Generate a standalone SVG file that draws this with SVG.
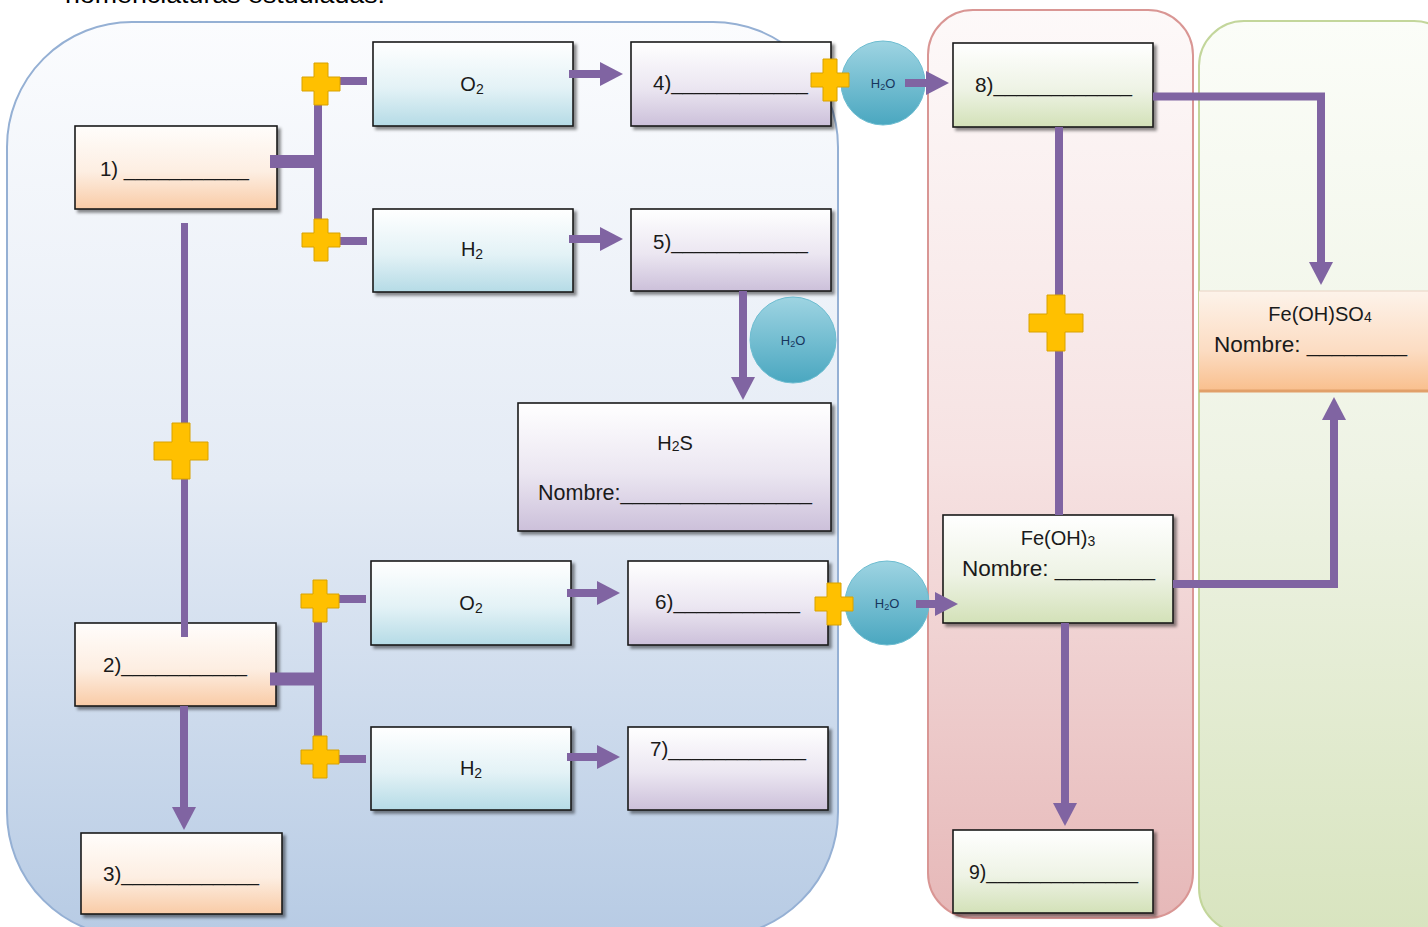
<svg xmlns="http://www.w3.org/2000/svg" width="1428" height="927" viewBox="0 0 1428 927">
<defs>
<linearGradient id="gBlue" x1="0" y1="0" x2="0" y2="1"><stop offset="0" stop-color="#fbfcfe"/><stop offset="0.5" stop-color="#e4ebf5"/><stop offset="1" stop-color="#b7cbe4"/></linearGradient>
<linearGradient id="gPink" x1="0" y1="0" x2="0" y2="1"><stop offset="0" stop-color="#fdf9f9"/><stop offset="0.5" stop-color="#f6e2e2"/><stop offset="1" stop-color="#e6b8b8"/></linearGradient>
<linearGradient id="gGreen" x1="0" y1="0" x2="0" y2="1"><stop offset="0" stop-color="#fbfdf8"/><stop offset="0.5" stop-color="#eef3e4"/><stop offset="1" stop-color="#d8e4bf"/></linearGradient>
<linearGradient id="gPeach" x1="0" y1="0" x2="0" y2="1"><stop offset="0" stop-color="#fffdfb"/><stop offset="0.55" stop-color="#fdeee2"/><stop offset="1" stop-color="#f9cba6"/></linearGradient>
<linearGradient id="gTeal" x1="0" y1="0" x2="0" y2="1"><stop offset="0" stop-color="#ffffff"/><stop offset="0.55" stop-color="#e3f2f6"/><stop offset="1" stop-color="#b5dbe6"/></linearGradient>
<linearGradient id="gLav" x1="0" y1="0" x2="0" y2="1"><stop offset="0" stop-color="#ffffff"/><stop offset="0.55" stop-color="#ebe6f1"/><stop offset="1" stop-color="#ccc0da"/></linearGradient>
<linearGradient id="gLime" x1="0" y1="0" x2="0" y2="1"><stop offset="0" stop-color="#ffffff"/><stop offset="0.55" stop-color="#eef3e5"/><stop offset="1" stop-color="#d3e1b8"/></linearGradient>
<linearGradient id="gOrange" x1="0" y1="0" x2="0" y2="1"><stop offset="0" stop-color="#fdf3ea"/><stop offset="0.6" stop-color="#fcdcc2"/><stop offset="1" stop-color="#f9bf8d"/></linearGradient>
<linearGradient id="gCircle" x1="0" y1="0" x2="0" y2="1"><stop offset="0" stop-color="#9ed4e2"/><stop offset="1" stop-color="#4aa7c0"/></linearGradient>
<filter id="sh" x="-10%" y="-10%" width="130%" height="140%"><feDropShadow dx="3" dy="3" stdDeviation="1.5" flood-color="#000" flood-opacity="0.45"/></filter>
<marker id="ah" markerUnits="userSpaceOnUse" markerWidth="24" markerHeight="24" viewBox="0 0 24 24" refX="1" refY="12" orient="auto"><path d="M0,0 L23,12 L0,24 z" fill="#8064a2"/></marker>
<path id="plusS" d="M-7,-21 h14 v14 h12 v14 h-12 v14 h-14 v-14 h-12 v-14 h12 z"/>
<path id="plusL" d="M-9,-28 h18 v19 h18 v18 h-18 v19 h-18 v-19 h-18 v-18 h18 z"/>
</defs>
<style>
.box{stroke:#1a1a1a;stroke-width:1.6;filter:url(#sh)}
.peach{fill:url(#gPeach)}
.teal{fill:url(#gTeal)}
.lav{fill:url(#gLav)}
.lime{fill:url(#gLime)}
.t{font-family:"Liberation Sans",Arial,sans-serif;font-size:20px;fill:#1a1a1a}
.n{font-size:22px}
.c{text-anchor:middle}
.w{font-family:"Liberation Sans",Arial,sans-serif;font-size:13px;fill:#17365d;text-anchor:middle}
.con{stroke:#8064a2;fill:none;stroke-width:8}
.thick{stroke-width:13}
.thin{stroke-width:7}
.plus{fill:#ffc000;stroke:#d8a200;stroke-width:1}
.circ{fill:url(#gCircle);stroke:#6cbcd0;stroke-width:1}
</style>

<text x="65" y="3" font-family="Liberation Sans, Arial, sans-serif" font-size="24" fill="#000" textLength="320" lengthAdjust="spacingAndGlyphs">nomenclaturas estudiadas.</text>

<g id="panels">
<rect id="panel-blue" x="7" y="22" width="831" height="915" rx="125" ry="125" fill="url(#gBlue)" stroke="#95b0d4" stroke-width="2"/>
<rect id="panel-pink" x="928" y="10" width="265" height="908" rx="45" ry="45" fill="url(#gPink)" stroke="#d99694" stroke-width="2"/>
<rect id="panel-green" x="1199" y="21" width="260" height="912" rx="45" ry="45" fill="url(#gGreen)" stroke="#c3d69b" stroke-width="2"/>
</g>

<g id="n1"><rect class="box peach" x="75" y="126" width="202" height="83"/><text class="t" x="100" y="176" textLength="149" lengthAdjust="spacingAndGlyphs">1) ___________</text></g>
<g id="n2"><rect class="box peach" x="75" y="623" width="201" height="83"/><text class="t" x="103" y="672" textLength="144" lengthAdjust="spacingAndGlyphs">2)___________</text></g>
<g id="n3"><rect class="box peach" x="81" y="833" width="201" height="81"/><text class="t" x="103" y="881" textLength="156" lengthAdjust="spacingAndGlyphs">3)____________</text></g>

<g id="o2a"><rect class="box teal" x="373" y="42" width="200" height="84"/><text class="t c" x="472" y="91">O<tspan font-size="14" dy="3">2</tspan></text></g>
<g id="h2a"><rect class="box teal" x="373" y="209" width="200" height="83"/><text class="t c" x="472" y="256">H<tspan font-size="14" dy="3">2</tspan></text></g>
<g id="o2b"><rect class="box teal" x="371" y="561" width="200" height="84"/><text class="t c" x="471" y="610">O<tspan font-size="14" dy="3">2</tspan></text></g>
<g id="h2b"><rect class="box teal" x="371" y="727" width="200" height="83"/><text class="t c" x="471" y="775">H<tspan font-size="14" dy="3">2</tspan></text></g>

<g id="n4"><rect class="box lav" x="631" y="42" width="200" height="84"/><text class="t" x="653" y="90" textLength="155" lengthAdjust="spacingAndGlyphs">4)____________</text></g>
<g id="n5"><rect class="box lav" x="631" y="209" width="200" height="82"/><text class="t" x="653" y="249" textLength="155" lengthAdjust="spacingAndGlyphs">5)____________</text></g>
<g id="n6"><rect class="box lav" x="628" y="561" width="200" height="84"/><text class="t" x="655" y="609" textLength="145" lengthAdjust="spacingAndGlyphs">6)___________</text></g>
<g id="n7"><rect class="box lav" x="628" y="727" width="200" height="83"/><text class="t" x="650" y="756" textLength="156" lengthAdjust="spacingAndGlyphs">7)____________</text></g>
<g id="h2s"><rect class="box lav" x="518" y="403" width="313" height="128"/><text class="t c" x="675" y="450">H<tspan font-size="14" dy="1">2</tspan><tspan dy="-1">S</tspan></text><text class="t n" x="538" y="500" textLength="274" lengthAdjust="spacingAndGlyphs">Nombre:________________</text></g>

<g id="n8"><rect class="box lime" x="953" y="43" width="200" height="84"/><text class="t" x="975" y="92" textLength="157" lengthAdjust="spacingAndGlyphs">8)____________</text></g>
<g id="feoh3"><rect class="box lime" x="943" y="515" width="230" height="108"/><text class="t c" x="1058" y="545">Fe(OH)<tspan font-size="14" dy="1">3</tspan></text><text class="t n" x="962" y="576" textLength="193" lengthAdjust="spacingAndGlyphs">Nombre: ________</text></g>
<g id="n9"><rect class="box lime" x="953" y="830" width="200" height="83"/><text class="t" x="969" y="879" textLength="169" lengthAdjust="spacingAndGlyphs">9)______________</text></g>

<g id="feohso4"><rect x="1199" y="291" width="240" height="100" fill="url(#gOrange)"/><line x1="1199" y1="291" x2="1428" y2="291" stroke="#e9d3c3" stroke-width="1"/><line x1="1199" y1="391" x2="1428" y2="391" stroke="#e1a06a" stroke-width="3"/><text class="t c" x="1320" y="321">Fe(OH)SO<tspan font-size="14" dy="1">4</tspan></text><text class="t n" x="1214" y="352" textLength="193" lengthAdjust="spacingAndGlyphs">Nombre: ________</text></g>

<g id="water1"><circle class="circ" cx="883" cy="83" r="42"/><text class="w" x="883" y="88">H<tspan font-size="9" dy="2">2</tspan><tspan dy="-2">O</tspan></text></g>
<g id="water2"><circle class="circ" cx="793" cy="340" r="43"/><text class="w" x="793" y="345">H<tspan font-size="9" dy="2">2</tspan><tspan dy="-2">O</tspan></text></g>
<g id="water3"><circle class="circ" cx="887" cy="603" r="42"/><text class="w" x="887" y="608">H<tspan font-size="9" dy="2">2</tspan><tspan dy="-2">O</tspan></text></g>

<g id="connectors">
<line class="con thick" x1="270" y1="161.5" x2="321" y2="161.5"/>
<line class="con" x1="318" y1="84" x2="318" y2="240"/>
<line class="con" x1="321" y1="81" x2="367" y2="81"/>
<line class="con" x1="321" y1="241" x2="367" y2="241"/>
<line class="con thick" x1="270" y1="679" x2="321" y2="679"/>
<line class="con" x1="318" y1="601" x2="318" y2="757"/>
<line class="con" x1="320" y1="599" x2="366" y2="599"/>
<line class="con" x1="320" y1="759" x2="366" y2="759"/>
<line class="con thin" x1="184.5" y1="223" x2="184.5" y2="637"/>
<line class="con" x1="1059" y1="127" x2="1059" y2="515"/>
<line class="con" x1="569" y1="74" x2="601" y2="74" marker-end="url(#ah)"/>
<line class="con" x1="569" y1="239" x2="601" y2="239" marker-end="url(#ah)"/>
<line class="con" x1="567" y1="593" x2="598" y2="593" marker-end="url(#ah)"/>
<line class="con" x1="567" y1="757" x2="598" y2="757" marker-end="url(#ah)"/>
<line class="con" x1="905" y1="83" x2="927" y2="83" marker-end="url(#ah)"/>
<line class="con" x1="916" y1="604" x2="936" y2="604" marker-end="url(#ah)"/>
<line class="con" x1="743" y1="291" x2="743" y2="378" marker-end="url(#ah)"/>
<line class="con" x1="184" y1="706" x2="184" y2="808" marker-end="url(#ah)"/>
<line class="con" x1="1065" y1="623" x2="1065" y2="804" marker-end="url(#ah)"/>
<path class="con" d="M1153,96.5 H1321 V263" marker-end="url(#ah)"/>
<path class="con" d="M1173,584 H1334 V419" marker-end="url(#ah)"/>
</g>

<g id="plus-signs">
<use href="#plusS" class="plus" x="321" y="84"/>
<use href="#plusS" class="plus" x="321" y="240"/>
<use href="#plusS" class="plus" x="320" y="601"/>
<use href="#plusS" class="plus" x="320" y="757"/>
<use href="#plusS" class="plus" x="830" y="80"/>
<use href="#plusS" class="plus" x="834" y="604"/>
<use href="#plusL" class="plus" x="181" y="451"/>
<use href="#plusL" class="plus" x="1056" y="323"/>
</g>
</svg>
